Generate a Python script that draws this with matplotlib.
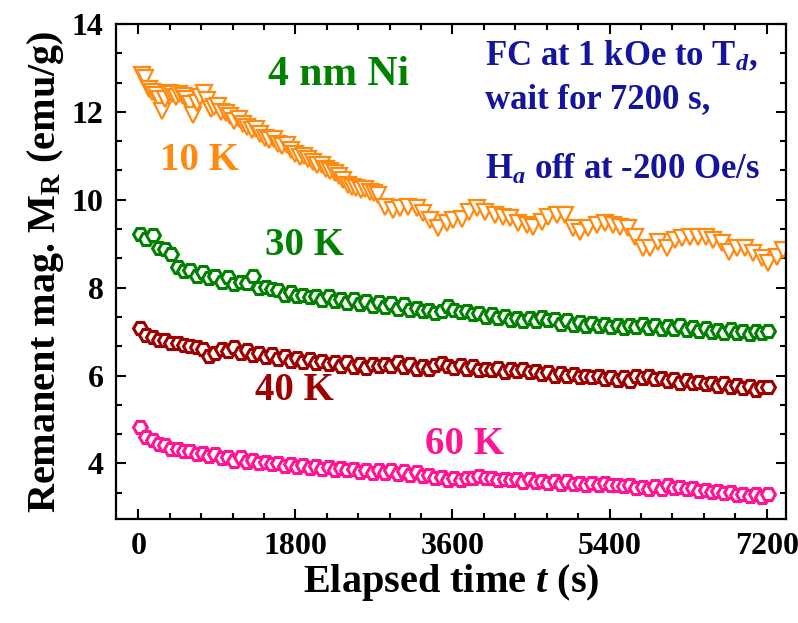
import numpy as np
import matplotlib
matplotlib.use("Agg")
import matplotlib.pyplot as plt
from matplotlib.ticker import MultipleLocator, AutoMinorLocator

plt.rcParams['font.family'] = ['Liberation Serif', 'DejaVu Serif']
plt.rcParams['font.weight'] = 'bold'
plt.rcParams['mathtext.fontset'] = 'custom'
plt.rcParams['mathtext.rm'] = 'Liberation Serif:bold'
plt.rcParams['mathtext.it'] = 'Liberation Serif:italic:bold'
plt.rcParams['mathtext.bf'] = 'Liberation Serif:bold'

# 10 K run: dense at first, sparser after ~2800 s
t10 = [40, 80, 120, 160, 200, 240, 270, 310, 350, 390, 430, 470, 510, 550, 590,
       630, 670, 710, 750, 790, 830, 870, 910, 950, 1000, 1050, 1100, 1150, 1200,
       1250, 1300, 1350, 1400, 1450, 1500, 1550, 1600, 1650, 1700, 1750, 1800,
       1850, 1900, 1950, 2000, 2050, 2100, 2150, 2200, 2250, 2300, 2350, 2400,
       2450, 2500, 2550, 2600, 2650, 2700, 2750,
       2827, 2922, 3000, 3093, 3190, 3266, 3342, 3437, 3533, 3610, 3705, 3790,
       3881, 3972, 4087, 4182, 4259, 4354, 4450, 4526, 4622, 4698, 4794, 4889,
       4985, 5061, 5157, 5252, 5348, 5443, 5519, 5615, 5691, 5787, 5863, 5959,
       6054, 6150, 6227, 6322, 6418, 6505, 6590, 6685, 6770, 6857, 6952, 7045,
       7143, 7215, 7315, 7387]
m10 = [12.85, 12.78, 12.52, 12.45, 12.38, 12.30, 12.02, 12.30, 12.42, 12.40,
       12.34, 12.40, 12.36, 12.30, 12.18, 11.94, 12.20, 12.34, 12.44, 12.28,
       12.06, 12.10, 12.14, 12.00, 11.98, 11.90, 11.80, 11.84, 11.72, 11.66,
       11.58, 11.62, 11.50, 11.40, 11.36, 11.38, 11.28, 11.22, 11.24, 11.14,
       11.04, 10.98, 11.00, 10.92, 10.86, 10.80, 10.78, 10.70, 10.66, 10.60,
       10.54, 10.44, 10.34, 10.30, 10.26, 10.22, 10.24, 10.18, 10.16, 10.12,
       9.84, 9.77, 9.81, 9.84, 9.81, 9.69, 9.54, 9.36, 9.47, 9.54, 9.56, 9.73,
       9.81, 9.73, 9.65, 9.61, 9.58, 9.47, 9.42, 9.39, 9.50, 9.61, 9.65, 9.65,
       9.36, 9.27, 9.36, 9.42, 9.47, 9.42, 9.39, 9.36, 9.16, 8.90, 8.90, 9.05,
       8.90, 9.08, 9.13, 9.16, 9.16, 9.16, 9.08, 9.01, 8.82, 8.90, 8.90, 8.79,
       8.67, 8.56, 8.70, 8.86]

# 30, 40, 60 K runs, one reading every 72 s starting at 20 s
dt = 72
t0 = 20
m30 = [9.22, 9.10, 9.20, 8.90, 8.88, 8.76, 8.48, 8.38, 8.40, 8.26, 8.36, 8.22,
       8.26, 8.14, 8.24, 8.08, 8.14, 8.10, 8.26, 8.00, 8.02, 7.96, 7.94, 7.84,
       7.90, 7.82, 7.84, 7.78, 7.80, 7.72, 7.80, 7.70, 7.74, 7.66, 7.74, 7.62,
       7.70, 7.58, 7.68, 7.56, 7.64, 7.52, 7.62, 7.50, 7.54, 7.48, 7.50, 7.42,
       7.48, 7.58, 7.50, 7.44, 7.46, 7.40, 7.42, 7.34, 7.40, 7.30, 7.36, 7.26,
       7.30, 7.24, 7.32, 7.24, 7.34, 7.26, 7.28, 7.18, 7.26, 7.16, 7.22, 7.12,
       7.20, 7.12, 7.18, 7.10, 7.14, 7.08, 7.16, 7.10, 7.18, 7.08, 7.14, 7.06,
       7.12, 7.06, 7.14, 7.04, 7.10, 7.02, 7.08, 6.98, 7.04, 6.96, 7.06, 6.96,
       7.02, 6.94, 7.02, 6.96, 7.01]
m40 = [7.08, 6.92, 6.88, 6.82, 6.82, 6.74, 6.74, 6.70, 6.68, 6.64, 6.60, 6.44,
       6.52, 6.60, 6.56, 6.64, 6.52, 6.58, 6.46, 6.52, 6.42, 6.48, 6.38, 6.44,
       6.34, 6.40, 6.32, 6.38, 6.28, 6.34, 6.26, 6.32, 6.22, 6.30, 6.20, 6.26,
       6.18, 6.26, 6.22, 6.26, 6.22, 6.30, 6.20, 6.26, 6.16, 6.22, 6.14, 6.24,
       6.28, 6.22, 6.18, 6.24, 6.16, 6.22, 6.12, 6.16, 6.12, 6.18, 6.08, 6.16,
       6.10, 6.14, 6.08, 6.10, 6.04, 6.08, 6.00, 6.06, 5.98, 6.04, 5.96, 6.00,
       5.96, 5.98, 5.92, 5.96, 5.90, 5.96, 5.88, 5.98, 5.94, 5.98, 5.92, 5.94,
       5.88, 5.92, 5.84, 5.90, 5.82, 5.86, 5.80, 5.84, 5.76, 5.82, 5.74, 5.78,
       5.72, 5.76, 5.68, 5.74, 5.75]
m60 = [4.82, 4.60, 4.54, 4.44, 4.42, 4.34, 4.34, 4.28, 4.28, 4.22, 4.24, 4.16,
       4.22, 4.12, 4.14, 4.06, 4.14, 4.04, 4.08, 4.00, 4.04, 3.98, 4.00, 3.94,
       3.98, 3.92, 3.96, 3.90, 3.94, 3.88, 3.92, 3.86, 3.90, 3.84, 3.88, 3.80,
       3.86, 3.78, 3.84, 3.78, 3.84, 3.76, 3.82, 3.74, 3.80, 3.72, 3.74, 3.68,
       3.70, 3.62, 3.68, 3.62, 3.68, 3.66, 3.72, 3.66, 3.68, 3.62, 3.64, 3.62,
       3.64, 3.58, 3.64, 3.58, 3.60, 3.56, 3.60, 3.54, 3.60, 3.54, 3.56, 3.52,
       3.56, 3.50, 3.56, 3.50, 3.52, 3.48, 3.50, 3.44, 3.46, 3.42, 3.48, 3.42,
       3.50, 3.44, 3.46, 3.42, 3.44, 3.38, 3.40, 3.36, 3.38, 3.32, 3.34, 3.28,
       3.30, 3.26, 3.30, 3.24, 3.30]

t30 = t0 + dt * np.arange(len(m30))
t40 = t0 + dt * np.arange(len(m40))
t60 = t0 + dt * np.arange(len(m60))

c10 = '#FF8A12'
c30 = '#008200'
c40 = '#9E0000'
c60 = '#FF1493'
cblue = '#14149C'

fig = plt.figure(figsize=(7.98, 6.23), dpi=100)
ax = fig.add_axes([0.1454, 0.1665, 0.8392, 0.795])

ax.plot(t60, m60, 'H', ms=10, mew=2.2, mec=c60, mfc='white', ls='none')
ax.plot(t40, m40, 'H', ms=10, mew=2.2, mec=c40, mfc='white', ls='none')
ax.plot(t30, m30, 'H', ms=10, mew=2.2, mec=c30, mfc='white', ls='none')
ax.plot(t10, m10, 'v', ms=11, mew=1.6, mec=c10, mfc='white', ls='none')

ax.set_xlim(-255, 7418)
ax.set_ylim(2.73, 14)
ax.xaxis.set_major_locator(MultipleLocator(1800))
ax.xaxis.set_minor_locator(MultipleLocator(360))
ax.yaxis.set_major_locator(MultipleLocator(2))
ax.yaxis.set_minor_locator(AutoMinorLocator(3))
ax.tick_params(which='both', direction='in', top=True, right=True, width=1.5)
ax.tick_params(which='major', length=7.5, labelsize=23, pad=9)
ax.tick_params(which='minor', length=4)
for s in ax.spines.values():
    s.set_linewidth(1.6)

ax.set_xlabel(r'Elapsed time $\mathit{t}$ (s)', fontsize=29, fontweight='bold', labelpad=1)
ax.set_ylabel(r'Remanent mag. $\mathrm{M}_{\mathrm{R}}$ (emu/g)', fontsize=29,
              fontweight='bold', labelpad=4)

ax.text(1490, 12.84, '4 nm Ni', color=c30, fontsize=30, va='center')
ax.text(250, 10.9, '10 K', color=c10, fontsize=28, va='center')
ax.text(1450, 8.97, '30 K', color=c30, fontsize=28, va='center')
ax.text(1340, 5.67, '40 K', color=c40, fontsize=28, va='center')
ax.text(3290, 4.42, '60 K', color=c60, fontsize=28, va='center')

ax.text(3972, 13.29, r'FC at 1 kOe to $\mathrm{T}_{\mathit{d}}$,', color=cblue, fontsize=25, va='center')
ax.text(3972, 12.27, 'wait for 7200 s,', color=cblue, fontsize=25, va='center')
ax.text(3972, 10.68, r'$\mathrm{H}_{\mathit{a}}$ off at -200 Oe/s', color=cblue, fontsize=25, va='center')

fig.savefig('out.png', dpi=100)
